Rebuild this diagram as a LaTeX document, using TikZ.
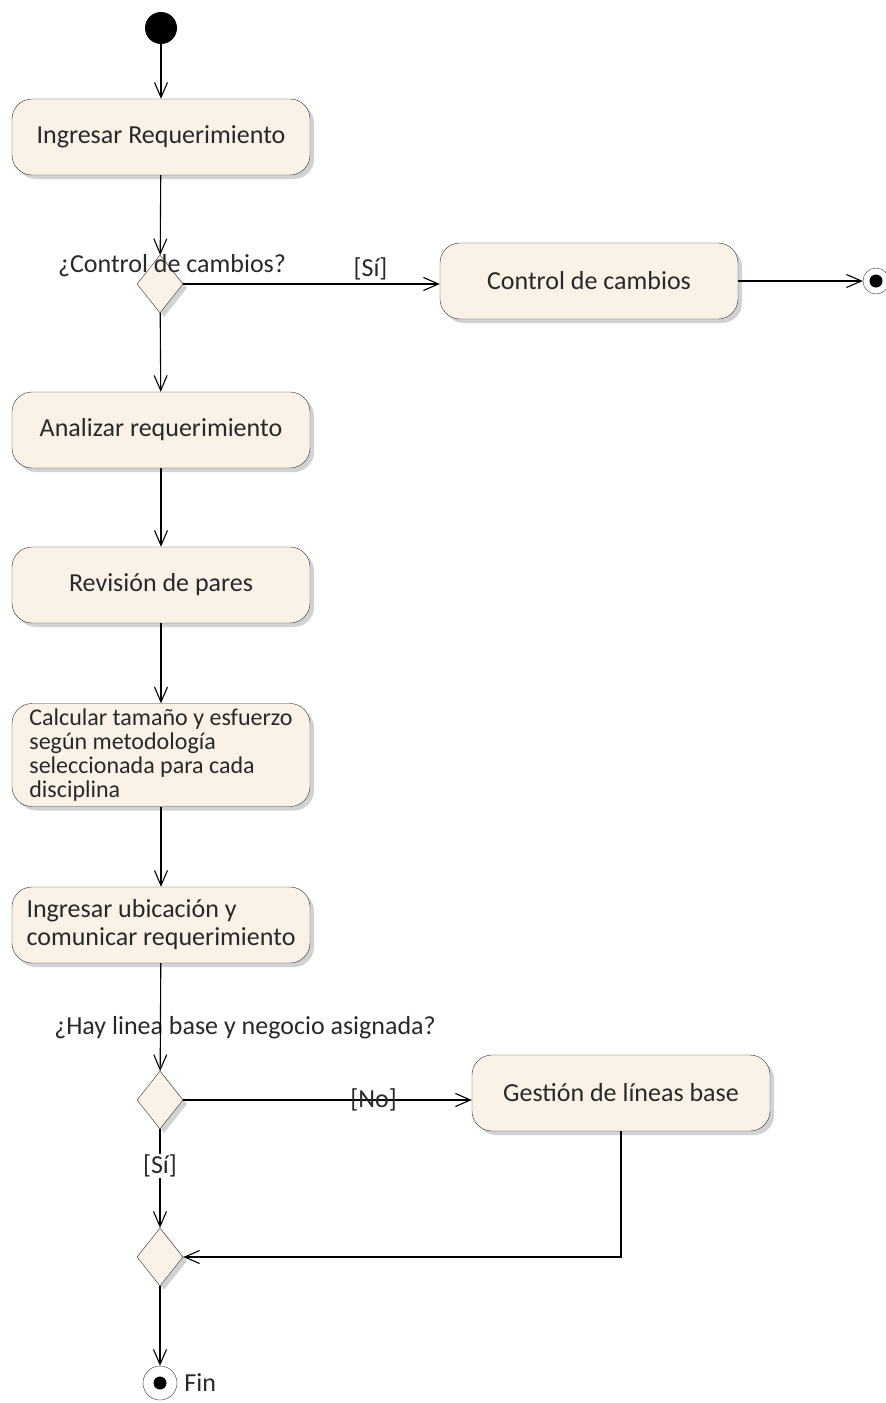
\documentclass[tikz,border=0pt]{standalone}
\usepackage{fontspec}
\setmainfont{Carlito}
\usetikzlibrary{arrows.meta,shapes.geometric,shadows}
\definecolor{cream}{RGB}{250,242,230}
\definecolor{ink}{RGB}{40,40,40}

\begin{document}
\begin{tikzpicture}[x=1pt,y=-1pt,>={Straight Barb[length=15pt,width=13pt]}]

  \tikzstyle{activity}=[rectangle,rounded corners=20pt,draw=black!80,fill=cream,
    text=ink,minimum width=298pt,minimum height=76pt,
    font=\fontsize{26}{28}\selectfont,
    drop shadow={shadow xshift=4pt,shadow yshift=-4pt,fill=black!35}]
  \tikzstyle{decision}=[diamond,draw=black!80,fill=cream,inner sep=0pt,
    minimum width=46pt,minimum height=58pt,
    drop shadow={shadow xshift=4pt,shadow yshift=-4pt,fill=black!35}]
  \tikzstyle{initial}=[circle,fill=black,minimum size=32pt,inner sep=0pt]
  \tikzstyle{final}=[circle,draw=black!80,fill=white,minimum size=34pt,inner sep=0pt,
    path picture={\fill[black] (path picture bounding box.center) circle (6.5pt);}]
  \tikzstyle{guard}=[text=ink,font=\fontsize{26}{28}\selectfont,inner sep=1pt]

  \useasboundingbox (0,0) rectangle (886,1403);

  \node  (start)     at (161,28)    [initial]  {};
  \node  (ingreso)   at (161,137)   [activity] {Ingresar Requerimiento};
  \node  (dec1)      at (160,284)   [decision] {};
  \node  (q1)        at (172,266)   [guard]    {¿Control de cambios?};
  \node  (control)   at (589,281)   [activity] {Control de cambios};
  \node  (fin1)      at (876,281)   [final,minimum size=26pt] {};
  \node  (analizar)  at (161,430)   [activity] {Analizar requerimiento};
  \node  (revision)  at (161,585)   [activity] {Revisión de pares};
  \node  (calcular)  at (161,755)   [activity,minimum height=103pt,align=left,
                                     inner sep=2pt,font=\fontsize{24}{24}\selectfont]
         {Calcular tamaño y esfuerzo\\según metodología\\seleccionada para cada\\disciplina};
  \node  (ubicacion) at (161,925)   [activity,align=left,inner sep=2pt]
         {Ingresar ubicación y\\comunicar requerimiento};
  \node  (q2)        at (245,1028)  [guard]    {¿Hay linea base y negocio asignada?};
  \node  (dec2)      at (160,1100)  [decision] {};
  \node  (gestion)   at (621,1093)  [activity] {Gestión de líneas base};
  \node  (merge)     at (160,1257)  [decision] {};
  \node  (fin)       at (160,1383)  [final,label={[guard,xshift=6pt]right:Fin}] {};

  \tikzstyle{flow}=[->,line width=1.1pt,rounded corners=0pt]

  \path (start)    edge [flow] (ingreso)
        (ingreso)  edge [flow] (dec1)
        (dec1)     edge [flow] (analizar)
        (analizar) edge [flow] (revision)
        (revision) edge [flow] (calcular)
        (calcular) edge [flow] (ubicacion)
        (ubicacion) edge [flow] (dec2)
        (merge)    edge [flow] (fin)
        (control)  edge [flow] (fin1);

  \draw [flow] (dec1.east) -- node[guard,pos=0.73,above=2pt] {[Sí]}
        (dec1.east -| control.west);
  \draw [flow] (dec2.east) -- node[guard,pos=0.66] {[No]}
        (dec2.east -| gestion.west);
  \draw [flow] (dec2) -- node[guard,pos=0.37,fill=white] {[Sí]} (merge);
  \draw [flow] (gestion) |- (merge);
\end{tikzpicture}
\end{document}
